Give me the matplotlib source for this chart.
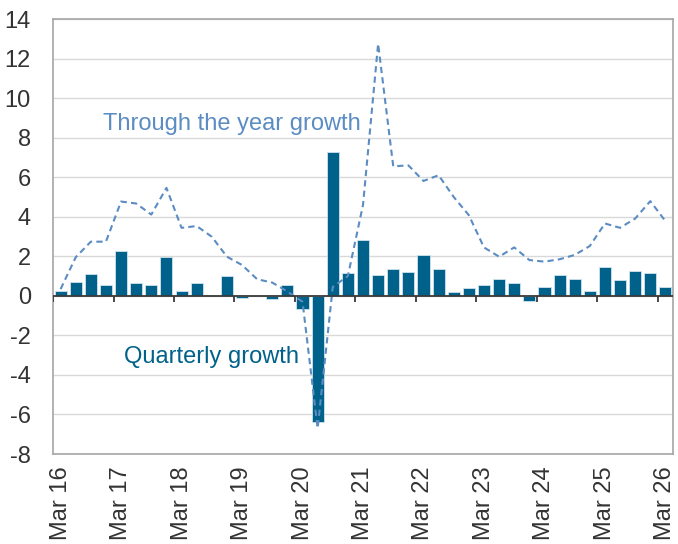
import matplotlib.pyplot as plt
import numpy as np

plt.rcParams['font.family'] = ['Liberation Sans', 'DejaVu Sans']
plt.rcParams['axes.unicode_minus'] = False

# quarterly data, Mar 16 .. Mar 26
years = ["16", "17", "18", "19", "20", "21", "22", "23", "24", "25", "26"]

quarterly_growth = [
    0.27, 0.72, 1.12, 0.54,
    2.25, 0.65, 0.54, 1.98,
    0.27, 0.65, 0.02, 0.99,
    -0.10, 0.0, -0.17, 0.54,
    -0.64, -6.4, 7.3, 1.18,
    2.8, 1.06, 1.34, 1.19,
    2.05, 1.34, 0.20, 0.40,
    0.54, 0.87, 0.67, -0.25,
    0.47, 1.06, 0.87, 0.27,
    1.46, 0.81, 1.26, 1.14,
    0.47,
]

through_year_growth = [
    0.34, 1.95, 2.74, 2.74,
    4.77, 4.67, 4.11, 5.46,
    3.44, 3.53, 2.99, 1.98,
    1.56, 0.84, 0.67, 0.22,
    -0.3, -6.7, 0.45, 1.0,
    4.6, 12.75, 6.55, 6.6,
    5.81, 6.1, 5.0, 4.08,
    2.45, 1.98, 2.45, 1.81,
    1.73, 1.85, 2.07, 2.52,
    3.66, 3.44, 3.91, 4.79,
    3.78,
]

bar_color = "#00618a"
line_color = "#5b8cc2"

fig = plt.figure(figsize=(6.78, 5.44), dpi=100)
ax = fig.add_axes([0.0782, 0.1654, 0.9144, 0.7996])

x = np.arange(len(quarterly_growth))
ax.bar(x, quarterly_growth, width=0.8, color=bar_color,
       edgecolor="#cfe3ec", linewidth=0.6, zorder=3)
ax.plot(x, through_year_growth, color=line_color, linestyle=(0, (3, 2)),
        linewidth=1.5, zorder=4)

ax.set_xlim(-0.5, len(x) - 0.5)
ax.set_ylim(-8, 14)
ax.set_yticks(np.arange(-8, 15, 2))
ax.yaxis.grid(True, color="#d9d9d9", linewidth=1)
ax.set_axisbelow(True)

# zero line with category-boundary ticks
ax.axhline(0, color="#3a3a3a", linewidth=1.3, zorder=5)
boundaries = np.arange(0, len(x), 4) - 0.5
ax.vlines(boundaries, -0.3, 0, color="#3a3a3a", linewidth=1.3, zorder=5)

ax.set_xticks(np.arange(0, len(x), 4))
ax.set_xticklabels(["Mar " + y for y in years], rotation=90)
ax.tick_params(axis="x", length=0, pad=9, labelsize=17, colors="#333333")
ax.tick_params(axis="y", length=0, pad=16, labelsize=17, colors="#333333")

for s in ax.spines.values():
    s.set_color("#a6a6a6")
    s.set_linewidth(1.2)

ax.text(2.81, 8.7, "Through the year growth", color=line_color,
        fontsize=17, va="center", ha="left")
ax.text(4.2, -3.07, "Quarterly growth", color=bar_color,
        fontsize=17, va="center", ha="left")

fig.savefig("out.png", dpi=100)
